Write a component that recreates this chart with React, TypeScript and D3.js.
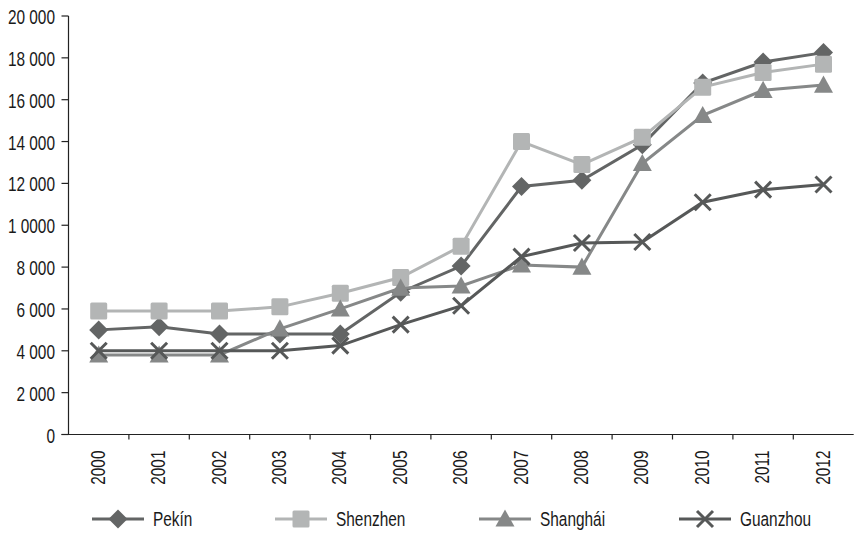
import React from "react";
import * as d3 from "d3";

const years = ["2000", "2001", "2002", "2003", "2004", "2005", "2006", "2007", "2008", "2009", "2010", "2011", "2012"];
const pekin = [5000, 5150, 4800, 4800, 4800, 6800, 8050, 11850, 12150, 13850, 16800, 17800, 18250];
const shenzhen = [5900, 5900, 5900, 6100, 6750, 7500, 9000, 14000, 12900, 14200, 16600, 17300, 17700];
const shanghai = [3800, 3800, 3800, 5050, 6000, 7000, 7100, 8100, 8000, 12950, 15250, 16450, 16700];
const guanzhou = [4000, 4000, 4000, 4000, 4250, 5250, 6150, 8500, 9150, 9200, 11100, 11700, 11950];
const yTicks = [0, 2000, 4000, 6000, 8000, 10000, 12000, 14000, 16000, 18000, 20000];
const yTickLabels = ["0", "2 000", "4 000", "6 000", "8 000", "1 0000", "12 000", "14 000", "16 000", "18 000", "20 000"];

type Marker = "diamond" | "square" | "triangle" | "cross";
const seriesNames = ["Pekín", "Shenzhen", "Shanghái", "Guanzhou"];
const seriesValues = [pekin, shenzhen, shanghai, guanzhou];
const seriesColors = ["#636565", "#b3b5b5", "#868888", "#565858"];
const seriesMarkers: Marker[] = ["diamond", "square", "triangle", "cross"];

const W = 854;
const H = 544;
const FONT = "'Liberation Sans', Arial, sans-serif";
const FS = 19.5;
const SX = 0.79; // horizontal squeeze for a condensed look

function MarkerShape({ type, x, y, color }: { type: Marker; x: number; y: number; color: string }) {
  if (type === "diamond") {
    const s = 9.5;
    return <path d={`M${x},${y - s}L${x + s},${y}L${x},${y + s}L${x - s},${y}Z`} fill={color} />;
  }
  if (type === "square") {
    const s = 8.5;
    return <rect x={x - s} y={y - s} width={2 * s} height={2 * s} rx={1.5} fill={color} />;
  }
  if (type === "triangle") {
    const s = 9.5;
    return <path d={`M${x},${y - s}L${x + s},${y + s * 0.8}L${x - s},${y + s * 0.8}Z`} fill={color} />;
  }
  const s = 8;
  return (
    <path
      d={`M${x - s},${y - s}L${x + s},${y + s}M${x - s},${y + s}L${x + s},${y - s}`}
      stroke={color}
      strokeWidth={3}
      fill="none"
    />
  );
}

function Label({
  x,
  y,
  rotate = 0,
  anchor = "start",
  children,
}: {
  x: number;
  y: number;
  rotate?: number;
  anchor?: "start" | "end" | "middle";
  children: React.ReactNode;
}) {
  return (
    <text
      transform={`translate(${x},${y}) rotate(${rotate}) scale(${SX},1)`}
      textAnchor={anchor}
      dy="0.36em"
      fontFamily={FONT}
      fontSize={FS}
      fill="#1a1a1a"
    >
      {children}
    </text>
  );
}

export default function App() {
  const x0 = 68.5;
  const x1 = 853.7;
  const x = d3.scaleBand<string>().domain(years).range([x0, x1]);
  const y = d3.scaleLinear().domain([0, 20000]).range([434.5, 16]);
  const cx = (yr: string) => (x(yr) ?? 0) + x.bandwidth() / 2;

  const line = d3
    .line<number>()
    .x((_, i) => cx(years[i]))
    .y((v) => y(v));

  const legendX = [92, 275, 479, 679];
  const legendY = 519;

  return (
    <svg width={W} height={H} style={{ position: "absolute", left: 0, top: 0, background: "#fff" }}>
      {/* axes */}
      <line x1={x0} x2={x0} y1={y(20000)} y2={y(0)} stroke="#222" strokeWidth={1.2} />
      <line x1={x0 - 7} x2={x1} y1={y(0)} y2={y(0)} stroke="#222" strokeWidth={1.2} />
      {yTicks.map((t, i) => (
        <g key={t}>
          <line x1={x0 - 7} x2={x0} y1={y(t)} y2={y(t)} stroke="#222" strokeWidth={1.2} />
          <Label x={55} y={y(t) + 1} anchor="end">
            {yTickLabels[i]}
          </Label>
        </g>
      ))}
      {years.map((yr, i) => (
        <g key={yr}>
          {i > 0 && (
            <line x1={x(yr)} x2={x(yr)} y1={y(0)} y2={y(0) + 5} stroke="#222" strokeWidth={1.2} />
          )}
          <Label x={cx(yr) - 1} y={y(0) + 16} rotate={-90} anchor="end">
            {yr}
          </Label>
        </g>
      ))}

      {/* series */}
      {seriesValues.map((vals, si) => (
        <g key={seriesNames[si]}>
          <path d={line(vals) ?? ""} fill="none" stroke={seriesColors[si]} strokeWidth={3} />
          {vals.map((v, i) => (
            <MarkerShape key={i} type={seriesMarkers[si]} x={cx(years[i])} y={y(v)} color={seriesColors[si]} />
          ))}
        </g>
      ))}

      {/* legend */}
      {seriesNames.map((name, si) => (
        <g key={name}>
          <line
            x1={legendX[si]}
            x2={legendX[si] + 52}
            y1={legendY}
            y2={legendY}
            stroke={seriesColors[si]}
            strokeWidth={3}
          />
          <MarkerShape type={seriesMarkers[si]} x={legendX[si] + 26} y={legendY} color={seriesColors[si]} />
          <Label x={legendX[si] + 61} y={legendY}>
            {name}
          </Label>
        </g>
      ))}
    </svg>
  );
}
